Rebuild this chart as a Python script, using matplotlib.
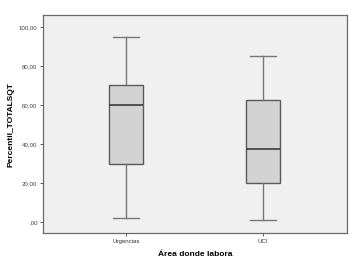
import matplotlib
matplotlib.use("Agg")
import matplotlib.pyplot as plt
from matplotlib.ticker import FuncFormatter

# data (min, q1, median, q3, max)
categories = ["Urgencias", "UCI"]
whisker_low = [2, 1]
q1 = [30, 20]
medians = [60, 37.5]
q3 = [70, 62.5]
whisker_high = [95, 85]
y_ticks = [0, 20, 40, 60, 80, 100]

plt.rcParams['font.family'] = ['Liberation Sans', 'DejaVu Sans']

stats = []
for i, name in enumerate(categories):
    stats.append({"label": name, "whislo": whisker_low[i], "q1": q1[i],
                  "med": medians[i], "q3": q3[i], "whishi": whisker_high[i],
                  "fliers": []})

fig = plt.figure(figsize=(3.54, 2.64), dpi=100)
ax = fig.add_axes([0.1215, 0.117, 0.859, 0.826])
ax.set_facecolor("#f0f0f0")

ax.bxp(stats, positions=[1, 2], widths=0.25, patch_artist=True,
       boxprops=dict(facecolor="#d3d3d3", edgecolor="#5a5a5a", linewidth=1.0),
       medianprops=dict(color="#3a3a3a", linewidth=1.2),
       whiskerprops=dict(color="#777777", linewidth=1.0),
       capprops=dict(color="#777777", linewidth=1.0),
       capwidths=0.19)

ax.set_xlim(0.395, 2.612)
ax.set_ylim(-5.5, 106)
ax.set_yticks(y_ticks)

def fmt(v, pos):
    s = "%.2f" % v
    s = s.replace(".", ",")
    if s.startswith("0,"):
        s = s[1:]
    return s

ax.yaxis.set_major_formatter(FuncFormatter(fmt))
ax.tick_params(axis="both", labelsize=4.4, length=2.5, width=0.6,
               colors="#444444", pad=1.5)
ax.tick_params(axis="x", labelcolor="#333333")

for sp in ax.spines.values():
    sp.set_color("#6a6a6a")
    sp.set_linewidth(0.9)

ax.set_xlabel("Área donde labora", fontsize=6, fontweight="bold", labelpad=5.5)
ax.set_ylabel("Percentil_TOTALSQT", fontsize=6, fontweight="bold", labelpad=3)

fig.savefig("out.png", dpi=100)
